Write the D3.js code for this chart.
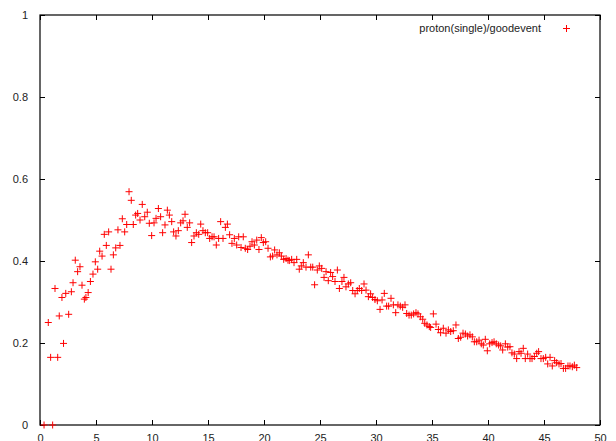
<!DOCTYPE html>
<html><head><meta charset="utf-8">
<script src="https://cdn.jsdelivr.net/npm/d3@7"></script>
<style>body{margin:0;background:#fff}svg{display:block}text{font-family:"Liberation Sans",Arial,sans-serif;font-size:11px;fill:#222}</style>
</head><body>
<script>
const xValues = [
 0.36,0.74,0.95,1.13,1.34,1.58,1.72,1.96,2.1,2.3,2.56,2.8,2.95,3.15,3.36,3.57,3.75,3.96,4.1,4.3,4.5,4.73,4.94,5.15,5.33,5.54,5.74,5.92,6.13,6.34,6.55,6.76,6.96,7.14,7.35,7.56,7.74,7.95,8.15,8.33,8.54,8.72,8.93,9.13,
 9.35,9.58,9.76,9.97,10.18,10.36,10.57,10.77,10.95,11.16,11.37,11.55,11.76,11.93,12.14,12.35,12.56,12.77,12.95,13.15,13.36,13.54,13.75,13.96,14.17,14.35,14.55,14.76,14.97,15.15,15.36,15.54,15.74,15.95,16.13,16.34,16.55,16.73,16.93,17.14,17.35,17.56,17.74,17.95,18.15,18.33,18.54,18.75,18.93,19.14,19.35,19.55,19.76,19.94,20.15,20.36,20.57,20.77,20.95,21.16,21.37,21.55,21.76,21.97,22.14,
 22.26,22.47,22.68,22.92,23.15,23.33,23.51,23.75,23.96,24.17,24.35,24.52,24.76,24.94,25.15,25.36,25.54,25.74,25.95,26.13,26.34,26.55,26.73,26.96,27.14,27.32,27.53,27.74,27.92,28.13,28.33,28.51,28.72,28.93,29.11,29.32,29.52,29.7,29.91,30.12,30.36,30.54,30.74,30.95,31.13,31.34,31.55,31.76,31.96,32.17,32.38,32.59,32.74,32.95,33.15,33.36,33.57,33.75,33.96,34.17,34.35,34.55,34.76,
 34.88,35.12,35.36,35.57,35.77,36.01,36.25,36.46,36.67,36.9,37.14,37.35,37.56,37.77,37.98,38.18,38.39,38.6,38.78,38.99,39.2,39.4,39.58,39.76,39.94,40.15,40.36,40.54,40.74,40.95,41.13,41.31,41.55,41.76,41.96,42.14,42.35,42.56,42.77,42.95,43.15,43.33,43.54,43.75,43.93,44.14,44.35,44.52,44.73,44.94,45.15,45.33,45.54,45.74,45.95,46.13,46.34,46.52,46.73,46.93,47.14,47.32,47.53,47.71,47.92
];
const yValues = [
 0,0.25,0.165,0,0.333,0.165,0.266,0.311,0.199,0.321,0.27,0.325,0.347,0.402,0.374,0.386,0.341,0.307,0.311,0.323,0.35,0.368,0.398,0.38,0.424,0.412,0.465,0.438,0.471,0.38,0.415,0.432,0.476,0.438,0.503,0.471,0.489,0.569,0.548,0.489,0.512,0.516,0.5,0.538,
 0.508,0.519,0.492,0.462,0.493,0.504,0.528,0.508,0.469,0.488,0.524,0.512,0.496,0.471,0.461,0.474,0.493,0.498,0.514,0.482,0.493,0.445,0.461,0.469,0.465,0.49,0.474,0.469,0.469,0.455,0.459,0.459,0.439,0.455,0.496,0.455,0.482,0.49,0.464,0.443,0.455,0.439,0.459,0.433,0.459,0.431,0.428,0.436,0.447,0.439,0.451,0.428,0.457,0.445,0.447,0.431,0.41,0.412,0.427,0.415,0.42,0.412,0.404,0.406,0.402,
 0.401,0.404,0.396,0.404,0.38,0.388,0.396,0.385,0.415,0.385,0.385,0.342,0.378,0.388,0.382,0.36,0.374,0.352,0.372,0.362,0.35,0.378,0.333,0.35,0.36,0.337,0.344,0.347,0.328,0.32,0.328,0.333,0.328,0.344,0.329,0.313,0.32,0.311,0.306,0.303,0.282,0.305,0.321,0.29,0.29,0.309,0.293,0.274,0.293,0.29,0.287,0.293,0.272,0.268,0.268,0.271,0.274,0.271,0.264,0.258,0.248,0.244,0.24,
 0.238,0.271,0.246,0.233,0.225,0.236,0.224,0.232,0.228,0.23,0.244,0.211,0.214,0.224,0.222,0.217,0.22,0.215,0.203,0.203,0.207,0.198,0.195,0.209,0.181,0.198,0.201,0.203,0.198,0.195,0.193,0.183,0.198,0.19,0.191,0.176,0.173,0.162,0.179,0.175,0.187,0.162,0.173,0.162,0.162,0.167,0.175,0.179,0.162,0.162,0.165,0.149,0.165,0.144,0.157,0.152,0.149,0.15,0.138,0.138,0.144,0.144,0.142,0.146,0.14
];
const xTicks = [0,5,10,15,20,25,30,35,40,45,50];
const yTicks = [0,0.2,0.4,0.6,0.8,1];
const seriesName = "proton(single)/goodevent";

const W = 616, H = 441;
const m = {l:40, r:16, t:15, b:16};
const svg = d3.select("body").append("svg").attr("width", W).attr("height", H);
const x = d3.scaleLinear().domain([0,50]).range([m.l, W - m.r]);
const y = d3.scaleLinear().domain([0,1]).range([H - m.b, m.t]);
const tk = 5;

const fmtY = d => d === 0 ? "0" : d === 1 ? "1" : d3.format(".1f")(d);

// bottom axis
const gb = svg.append("g").attr("transform", `translate(0,${y(0)})`)
  .call(d3.axisBottom(x).tickValues(xTicks).tickSize(-tk).tickPadding(tk + 4).tickFormat(d3.format("d")));
// top mirror
const gt = svg.append("g").attr("transform", `translate(0,${y(1)})`)
  .call(d3.axisTop(x).tickValues(xTicks).tickSize(-tk).tickFormat(""));
// left axis
const gl = svg.append("g").attr("transform", `translate(${x(0)},0)`)
  .call(d3.axisLeft(y).tickValues(yTicks).tickSize(-tk).tickPadding(tk + 7).tickFormat(fmtY));
// right mirror
const gr = svg.append("g").attr("transform", `translate(${x(50)},0)`)
  .call(d3.axisRight(y).tickValues(yTicks).tickSize(-tk).tickFormat(""));
[gb, gt, gl, gr].forEach(g => {
  g.select(".domain").remove();
  g.selectAll("line").attr("stroke", "#000");
  g.selectAll("text").attr("fill", "#222").style("font-size", "11px").attr("font-family", "Liberation Sans, Arial, sans-serif");
});
svg.append("rect").attr("x", x(0)).attr("y", y(1)).attr("width", x(50) - x(0)).attr("height", y(0) - y(1))
  .attr("fill", "none").attr("stroke", "#000").attr("stroke-width", 1.2);

const pts = xValues.map((v, i) => [v, yValues[i]]);
const plus = "M-3.5,0H3.5M0,-3.5V3.5";
svg.append("g").selectAll("path").data(pts).join("path")
  .attr("d", plus)
  .attr("transform", d => `translate(${x(d[0])},${y(d[1])})`)
  .attr("stroke", "#f00").attr("stroke-width", 1).attr("fill", "none");

// legend
svg.append("text").attr("x", 541).attr("y", 32).attr("text-anchor", "end").text(seriesName);
svg.append("path").attr("d", plus).attr("transform", "translate(566.5,28.5)")
  .attr("stroke", "#f00").attr("stroke-width", 1);
</script>
</body></html>
